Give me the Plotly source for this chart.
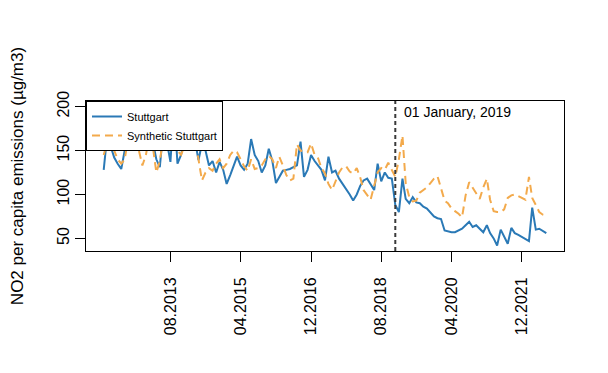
import pandas as pd
import plotly.graph_objects as go

start_month = "2012-01-01"
n_months = 127
intervention_date = "2018-12-01"
intervention_label = "01 January, 2019"

stuttgart = [128, 168, 155, 142, 135, 129, 150, 175, 165, 170,
             185, 172, 150, 178, 160, 140, 131, 175, 160, 137,
             200, 135, 145, 162, 165, 160, 162, 139, 158, 150,
             133, 138, 125, 137, 128, 112, 122, 133, 143, 133,
             128, 135, 163, 145, 138, 125, 133, 152, 138, 113,
             120, 127, 128, 129, 131, 133, 160, 120, 128, 145,
             138, 133, 128, 116, 143, 125, 127, 118, 112, 107,
             100, 93, 100, 110, 116, 118, 112, 105, 135, 115,
             125, 119, 118, 88, 80, 118, 95, 90, 97, 91,
             90, 86, 84, 80, 75, 73, 72, 59, 58, 57,
             57, 59, 61, 65, 69, 63, 65, 61, 57, 65,
             56, 50, 42, 60, 52, 44, 62, 56, 54, 52,
             50, 47, 85, 60, 61, 58, 56]

synthetic = [145, 160, 170, 150, 140, 135, 140, 165, 175, 160,
             150, 133, 145, 170, 155, 125, 138, 165, 170, 150,
             160, 150, 145, 155, 160, 170, 165, 140, 116, 125,
             130, 127, 135, 140, 130, 135, 145, 150, 148, 140,
             132, 127, 140, 129, 130, 133, 140, 144, 140, 130,
             143, 133, 122, 116, 118, 157, 150, 149, 148, 158,
             145, 141, 130, 124, 112, 105, 115, 125, 131, 132,
             126, 124, 130, 119, 105, 100, 94, 110, 125, 130,
             128, 136, 128, 120, 140, 167, 113, 97, 92, 93,
             102, 105, 108, 113, 118, 121, 108, 93, 90, 84,
             81, 78, 74, 99, 114, 108, 102, 95, 108, 118,
             94, 81, 80, 80, 83, 96, 99, 100, 98, 96,
             94, 120, 96, 88, 80, 77, 76]

tick_dates = ["2013-08-01", "2015-04-01", "2016-12-01", "2018-08-01", "2020-04-01", "2021-12-01"]
tick_labels = ["08.2013", "04.2015", "12.2016", "08.2018", "04.2020", "12.2021"]
y_ticks = [50, 100, 150, 200]

dates = pd.date_range(start_month, periods=n_months, freq="MS")

FONT = "Liberation Sans, Arial, sans-serif"
BLUE = "#2A79B6"
ORANGE = "#F3AA4C"

fig = go.Figure()
fig.add_trace(go.Scatter(x=dates, y=stuttgart, mode="lines", name="Stuttgart",
                         line=dict(color=BLUE, width=2)))
fig.add_trace(go.Scatter(x=dates, y=synthetic, mode="lines", name="Synthetic Stuttgart",
                         line=dict(color=ORANGE, width=2, dash="8px,5px")))

# R-style 4% axis expansion
span = dates[-1] - dates[0]
x_range = [dates[0] - 0.04 * span, dates[-1] + 0.04 * span]
all_y = stuttgart + synthetic
ymin, ymax = min(all_y), max(all_y)
y_range = [ymin - 0.04 * (ymax - ymin), ymax + 0.04 * (ymax - ymin)]

fig.add_shape(type="line", xref="x", yref="paper",
              x0=intervention_date, x1=intervention_date, y0=0, y1=1,
              line=dict(color="#3a3a3a", width=2, dash="4px,3px"))
fig.add_annotation(xref="x", yref="paper", x=intervention_date, y=1,
                   xanchor="left", yanchor="top", xshift=7, yshift=-1,
                   text=intervention_label, showarrow=False,
                   font=dict(family=FONT, size=14, color="black"))

fig.update_layout(
    width=600, height=365,
    margin=dict(l=78, r=44, t=93, b=122),
    paper_bgcolor="white", plot_bgcolor="white",
    font=dict(family=FONT, color="black"),
    showlegend=True,
    legend=dict(x=0, y=1, xanchor="left", yanchor="top",
                bgcolor="white", bordercolor="black", borderwidth=1,
                font=dict(family=FONT, size=11, color="black"),
                itemwidth=30, tracegroupgap=0),
    xaxis=dict(type="date", range=x_range, tickvals=pd.to_datetime(tick_dates),
               ticktext=tick_labels, tickangle=-90, ticks="outside", ticklen=10,
               tickcolor="black", showline=True, mirror=True, linecolor="black",
               linewidth=1, showgrid=False, zeroline=False, automargin=False,
               ticklabelstandoff=9,
               tickfont=dict(family=FONT, size=16, color="black")),
    yaxis=dict(range=y_range, tickvals=y_ticks, tickangle=-90, ticks="outside",
               ticklen=10, tickcolor="black", showline=True, mirror=True,
               linecolor="black", linewidth=1, showgrid=False, zeroline=False,
               automargin=False,
               tickfont=dict(family=FONT, size=16, color="black"),
               title=dict(text="NO2 per capita emissions (µg/m3)",
                          font=dict(family=FONT, size=17, color="black"),
                          standoff=33)),
)

fig.write_html("out.html")
